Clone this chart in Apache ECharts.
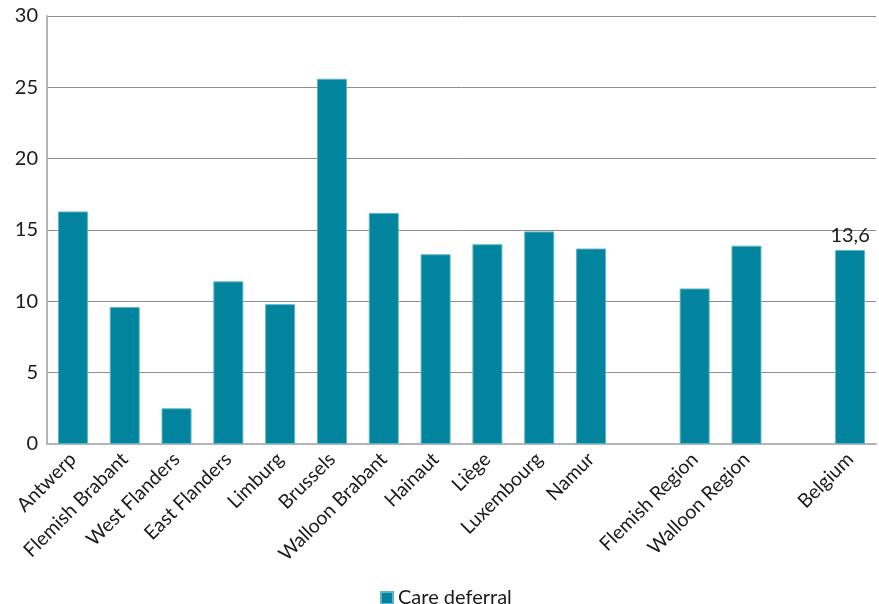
<!DOCTYPE html>
<html>
<head>
<meta charset="utf-8">
<script src="https://cdn.jsdelivr.net/npm/echarts@6/dist/echarts.min.js"></script>
<style>
  html, body { margin: 0; padding: 0; background: #fff; }
  #chart { width: 879px; height: 604px; }
</style>
</head>
<body>
<div id="chart"></div>
<script>
// Provinces, then regions, then the national figure; empty slots leave gaps between groups
const categories = ['Antwerp', 'Flemish Brabant', 'West Flanders', 'East Flanders', 'Limburg',
  'Brussels', 'Walloon Brabant', 'Hainaut', 'Liège', 'Luxembourg', 'Namur', '',
  'Flemish Region', 'Walloon Region', ' ', 'Belgium'];
const careDeferral = [16.3, 9.6, 2.5, 11.4, 9.8, 25.6, 16.2, 13.3, 14.0, 14.9, 13.7, null,
  10.9, 13.9, null, 13.6];
const yTicks = [0, 5, 10, 15, 20, 25, 30];
const labelledCategory = 'Belgium';

const font = 'Lato, "Liberation Sans", sans-serif';

const seriesData = careDeferral.map((v, i) => {
  if (categories[i] === labelledCategory) {
    return {
      value: v,
      label: {
        show: true,
        position: 'top',
        distance: 4,
        formatter: p => String(p.value).replace('.', ','),
        color: '#1a1a1a',
        fontSize: 20,
        fontFamily: font
      }
    };
  }
  return v;
});

const chart = echarts.init(document.getElementById('chart'), null, { renderer: 'canvas' });
chart.setOption({
  animation: false,
  backgroundColor: '#ffffff',
  grid: { left: 47, right: 3, top: 16, bottom: 160, containLabel: false },
  legend: {
    data: ['Care deferral'],
    left: 375,
    top: 583,
    icon: 'rect',
    itemWidth: 12,
    itemHeight: 12,
    textStyle: { fontSize: 20, color: '#1a1a1a', fontFamily: font }
  },
  xAxis: {
    type: 'category',
    data: categories,
    axisLine: { show: true, lineStyle: { color: '#b4b4b4', width: 2 } },
    axisTick: { show: false },
    axisLabel: {
      interval: 0,
      rotate: 45,
      margin: 12,
      fontSize: 19.5,
      color: '#1a1a1a',
      fontFamily: font
    }
  },
  yAxis: {
    type: 'value',
    min: yTicks[0],
    max: yTicks[yTicks.length - 1],
    interval: 5,
    axisLine: { show: true, lineStyle: { color: '#b4b4b4', width: 2 } },
    axisTick: { show: false },
    axisLabel: { fontSize: 20, color: '#1a1a1a', margin: 9, fontFamily: font },
    splitLine: { show: true, lineStyle: { color: '#8c8c8c', width: 1 } }
  },
  series: [{
    name: 'Care deferral',
    type: 'bar',
    data: seriesData,
    barWidth: 30,
    itemStyle: { color: '#02849e', borderColor: '#5fb5c6', borderWidth: 1 }
  }]
});
</script>
</body>
</html>
